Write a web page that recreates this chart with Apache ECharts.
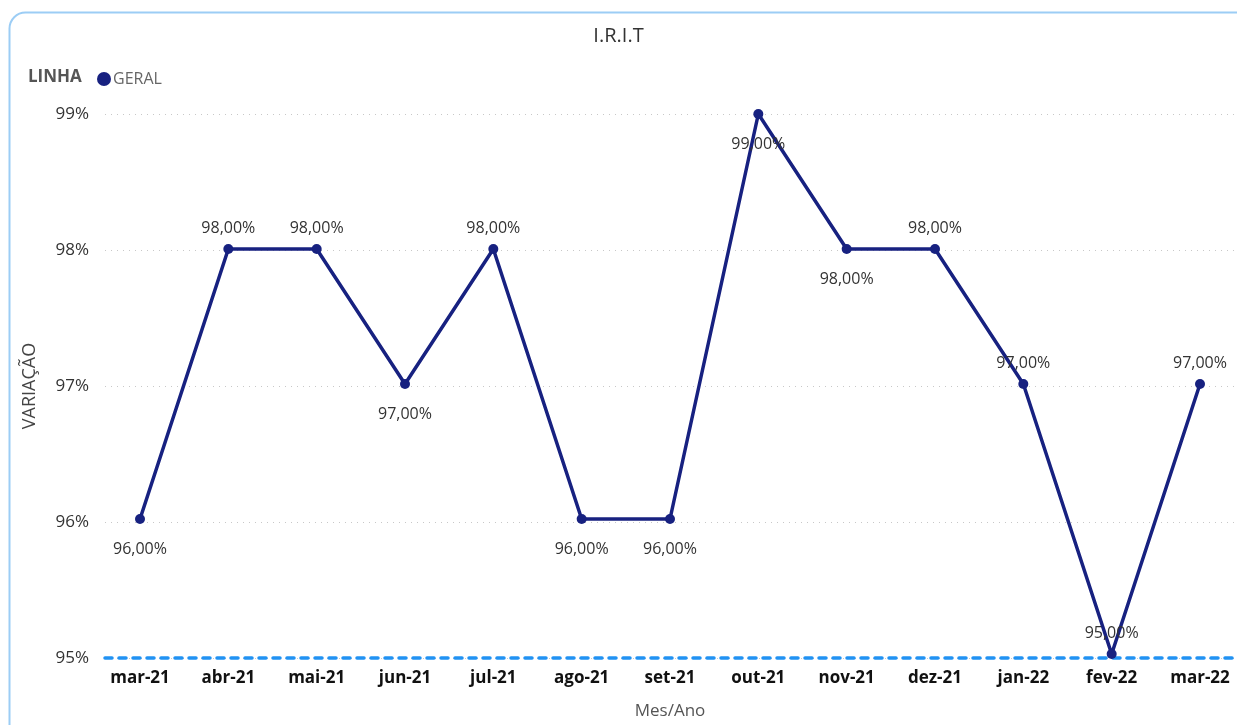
<!DOCTYPE html>
<html>
<head>
<meta charset="utf-8">
<script src="https://cdn.jsdelivr.net/npm/echarts@6/dist/echarts.min.js"></script>
<style>
  html, body { margin: 0; padding: 0; background: #fff; }
  #chart { width: 1237px; height: 725px; }
</style>
</head>
<body>
<div id="chart"></div>
<script>
// dados
var meses = ['mar-21', 'abr-21', 'mai-21', 'jun-21', 'jul-21', 'ago-21', 'set-21',
             'out-21', 'nov-21', 'dez-21', 'jan-22', 'fev-22', 'mar-22'];
var geral = [96, 98, 98, 97, 98, 96, 96, 99, 98, 98, 97, 95, 97];
// onde fica o rótulo de cada ponto
var posRotulo = ['bottom', 'top', 'top', 'bottom', 'top', 'bottom', 'bottom',
                 'bottom', 'bottom', 'top', 'top', 'top', 'top'];

var fonte = '"Open Sans", "DejaVu Sans", sans-serif';
var azul = '#172180';

var chart = echarts.init(document.getElementById('chart'));

function montaDados() {
    let arr = [];
    for (let i = 0; i < geral.length; i++) {
        arr.push({
            value: geral[i],
            label: {
                position: posRotulo[i],
                distance: posRotulo[i] == 'top' ? 8 : 17
            }
        });
    }
    return arr;
}

var option = {
    animation: false,
    textStyle: { fontFamily: fonte },
    graphic: [{
        type: 'rect',
        shape: { x: 9.5, y: 12.5, width: 1250, height: 740, r: 16 },
        style: { fill: 'none', stroke: '#9ccdf5', lineWidth: 2 },
        z: -10
    }],
    title: [
        {
            text: 'I.R.I.T',
            left: 'center',
            top: 21,
            textStyle: { fontSize: 20, fontWeight: 'normal', color: '#333', fontFamily: fonte }
        },
        {
            text: 'LINHA',
            left: 23,
            top: 64,
            textStyle: { fontSize: 17, fontWeight: 'bold', color: '#555', fontFamily: fonte }
        }
    ],
    legend: {
        data: ['GERAL'],
        left: 92,
        top: 66,
        icon: 'circle',
        itemWidth: 14,
        itemHeight: 14,
        itemGap: 4,
        textStyle: { fontSize: 16, color: '#666', fontFamily: fonte, padding: [0, 0, 0, -3] }
    },
    grid: [
        { left: 140, right: 37, top: 114, bottom: 67 },
        { left: 105, right: 0, top: 114, bottom: 67 }
    ],
    xAxis: [
        {
            type: 'category',
            gridIndex: 0,
            data: meses,
            boundaryGap: false,
            axisLine: { show: false },
            axisTick: { show: false },
            axisLabel: { fontSize: 17, fontWeight: 'bold', color: '#111', margin: 16 },
            name: 'Mes/Ano',
            nameLocation: 'middle',
            nameGap: 49,
            nameTextStyle: { fontSize: 17, color: '#555' }
        },
        {
            type: 'value',
            gridIndex: 1,
            min: 0,
            max: 1,
            axisLine: { show: true, lineStyle: { color: '#2192f3', width: 3.5, type: [7, 7] } },
            axisTick: { show: false },
            axisLabel: { show: false },
            splitLine: { show: false }
        }
    ],
    yAxis: [
        {
            type: 'value',
            gridIndex: 0,
            min: 95,
            max: 99,
            interval: 1,
            show: false
        },
        {
            type: 'value',
            gridIndex: 1,
            min: 95,
            max: 99,
            interval: 1,
            axisLine: { show: false },
            axisTick: { show: false },
            axisLabel: { formatter: '{value}%', fontSize: 17, color: '#333', margin: 16 },
            splitLine: { lineStyle: { color: '#c8c8c8', type: [1, 5], width: 1 } },
            name: 'VARIAÇÃO',
            nameLocation: 'middle',
            nameRotate: 90,
            nameGap: 66,
            nameTextStyle: { fontSize: 18, color: '#444' }
        }
    ],
    series: [{
        name: 'GERAL',
        type: 'line',
        xAxisIndex: 0,
        yAxisIndex: 0,
        data: montaDados(),
        symbol: 'circle',
        symbolSize: 10,
        color: azul,
        lineStyle: { color: azul, width: 3.5 },
        itemStyle: { color: azul },
        z: 5,
        label: {
            show: true,
            fontSize: 16,
            color: '#333',
            formatter: function (p) {
                return p.value.toFixed(2).replace('.', ',') + '%';
            }
        }
    }]
};

chart.setOption(option);
</script>
</body>
</html>
